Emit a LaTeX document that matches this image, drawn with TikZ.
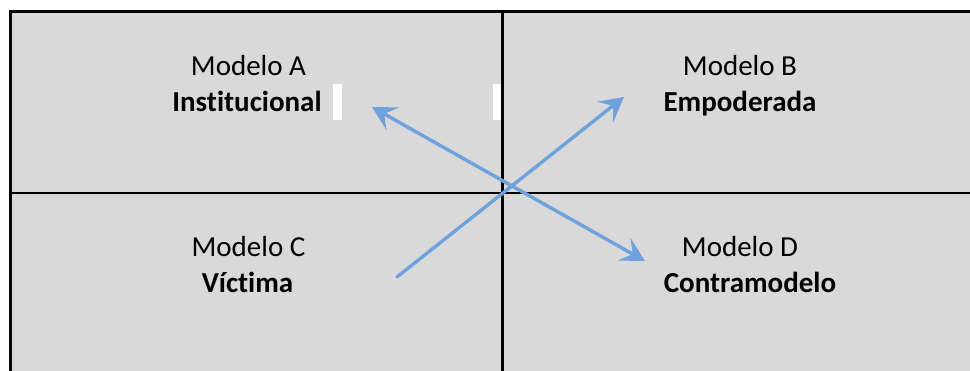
\documentclass[tikz,border=0pt]{standalone}
\usepackage{fontspec}
\setmainfont{Carlito}[Ligatures={NoCommon,NoContextual}]
\usetikzlibrary{arrows.meta}
\definecolor{cellgrey}{HTML}{D9D9D9}
\definecolor{arrowblue}{HTML}{6FA2DC}
\tikzset{
  lbl/.style={anchor=base, inner sep=0pt, font=\fontsize{29}{35}\selectfont},
  lblb/.style={lbl, font=\fontsize{29}{35}\selectfont\bfseries},
  gridline/.style={line width=2.6pt, black},
  conn/.style={line width=3.4pt, arrowblue, line cap=round,
    -{Stealth[length=24pt,width=26pt,inset=10pt,line width=2pt]}},
  conntwo/.style={line width=3.4pt, arrowblue, line cap=round,
    {Stealth[length=24pt,width=26pt,inset=10pt,line width=2pt]}-{Stealth[length=24pt,width=26pt,inset=10pt,line width=2pt]}},
}
\begin{document}
\begin{tikzpicture}[x=1pt,y=-1pt]
\useasboundingbox (0,0) rectangle (970,371);
% background cells
\fill[cellgrey] (10.5,11) rectangle (970,371);
% grid
\draw[line width=3pt] (10.5,371) -- (10.5,11.2) -- (970,11.2);
\draw[gridline] (502.5,11) -- (502.5,371);
\draw[gridline] (10.5,193) -- (970,193);
% white marks
\fill[white] (333,84) rectangle (342,120);
\fill[white] (493,84) rectangle (501,120);
% labels
\node[lbl]  (ma) at (248.5,76) {Modelo A};
\node[lblb] (ia) at (247,112) {Institucional};
\node[lbl]  (mb) at (740,76) {Modelo B};
\node[lblb] (eb) at (740,112) {Empoderada};
\node[lbl]  (mc) at (248.5,257) {Modelo C};
\node[lblb] (vc) at (247.5,293) {Víctima};
\node[lbl]  (md) at (740,257) {Modelo D};
\node[lblb] (cd) at (750,293) {Contramodelo};
% arrows
\coordinate (p1) at (372,107);
\coordinate (p2) at (645,261);
\coordinate (q1) at (397,277);
\coordinate (q2) at (624,97);
\draw[conntwo] (p1) -- (p2);
\draw[conn] (q1) -- (q2);
\end{tikzpicture}
\end{document}
